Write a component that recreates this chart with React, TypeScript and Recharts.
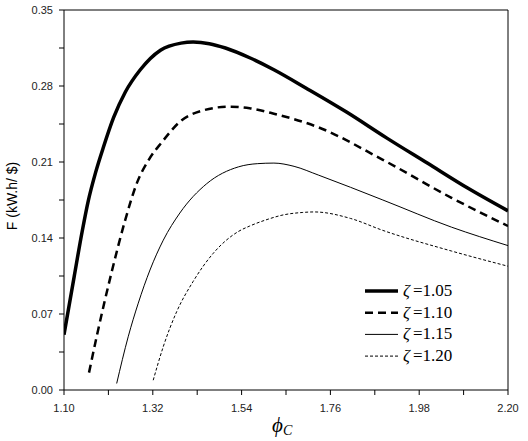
import { LineChart, Line, XAxis, YAxis, ReferenceLine } from "recharts"

// phi_C vs F (kW.h/$) for four zeta values
const phi105 = [1.10, 1.125, 1.145, 1.16, 1.178, 1.198, 1.223, 1.252, 1.289, 1.339, 1.39, 1.42, 1.46, 1.50, 1.56, 1.62, 1.70, 1.80, 1.90, 2.00, 2.10, 2.20]
const f105 = [0.051, 0.104, 0.146, 0.174, 0.200, 0.224, 0.251, 0.2745, 0.295, 0.313, 0.3195, 0.3205, 0.319, 0.315, 0.306, 0.295, 0.278, 0.256, 0.232, 0.209, 0.186, 0.165]

const phi110 = [1.162, 1.182, 1.219, 1.252, 1.281, 1.31, 1.343, 1.39, 1.44, 1.51, 1.56, 1.62, 1.73, 1.89, 2.06, 2.20]
const f110 = [0.016, 0.051, 0.110, 0.157, 0.191, 0.212, 0.2285, 0.248, 0.257, 0.261, 0.2595, 0.2545, 0.242, 0.212, 0.177, 0.151]

const phi115 = [1.2305, 1.259, 1.284, 1.313, 1.346, 1.387, 1.4535, 1.532, 1.58, 1.62, 1.67, 1.73, 1.89, 2.06, 2.20]
const f115 = [0.006, 0.049, 0.080, 0.1105, 0.138, 0.163, 0.190, 0.2055, 0.2085, 0.209, 0.206, 0.198, 0.175, 0.150, 0.133]

const phi120 = [1.321, 1.346, 1.379, 1.42, 1.47, 1.532, 1.56, 1.603, 1.64, 1.69, 1.72, 1.81, 1.89, 2.06, 2.20]
const f120 = [0.009, 0.040, 0.072, 0.100, 0.126, 0.146, 0.151, 0.157, 0.161, 0.1635, 0.164, 0.158, 0.147, 0.128, 0.114]

const xTicks = [1.10, 1.21, 1.32, 1.43, 1.54, 1.65, 1.76, 1.87, 1.98, 2.09, 2.20]
const yTicks = [0, 0.035, 0.07, 0.105, 0.14, 0.175, 0.21, 0.245, 0.28, 0.315, 0.35]

const zetaLabels = ["1.05", "1.10", "1.15", "1.20"]

const toRows = (xs: number[], ys: number[]) => xs.map((x, i) => ({ x, y: ys[i] }))

const series = [
  { name: zetaLabels[0], data: toRows(phi105, f105), width: 3.5, dash: undefined },
  { name: zetaLabels[1], data: toRows(phi110, f110), width: 2.5, dash: "8 5" },
  { name: zetaLabels[2], data: toRows(phi115, f115), width: 1, dash: undefined },
  { name: zetaLabels[3], data: toRows(phi120, f120), width: 1, dash: "3 2" },
]

const tickFont = { fontSize: 11, fontFamily: "Liberation Sans", fill: "#222" }

export default function App() {
  return (
    <div style={{ position: "absolute", left: 0, top: 0, width: 528, height: 441, background: "#fff" }}>
      <LineChart width={528} height={441} margin={{ top: 10, right: 20, left: 0, bottom: 0 }}>
        <XAxis
          dataKey="x"
          type="number"
          domain={[1.1, 2.2]}
          ticks={xTicks}
          allowDataOverflow
          height={51}
          tickSize={5}
          tickMargin={9}
          stroke="#000"
          tick={tickFont}
          tickFormatter={(v: number, i: number) => (i % 2 === 0 ? v.toFixed(2) : "")}
        />
        <YAxis
          type="number"
          domain={[0, 0.35]}
          ticks={yTicks}
          allowDataOverflow
          width={64}
          tickSize={5}
          tickMargin={6}
          stroke="#000"
          tick={tickFont}
          tickFormatter={(v: number, i: number) => (i % 2 === 0 ? v.toFixed(2) : "")}
        />
        <ReferenceLine y={0.35} stroke="#000" strokeWidth={1} />
        <ReferenceLine x={2.2} stroke="#000" strokeWidth={1} />
        {series.map((s) => (
          <Line
            key={s.name}
            data={s.data}
            dataKey="y"
            type="monotone"
            stroke="#000"
            strokeWidth={s.width}
            strokeDasharray={s.dash}
            dot={false}
            activeDot={false}
            isAnimationActive={false}
          />
        ))}
      </LineChart>

      <svg width={528} height={441} style={{ position: "absolute", left: 0, top: 0, pointerEvents: "none" }}>
        {series.map((s, i) => {
          const cy = 291 + i * 21.7
          return (
            <g key={s.name}>
              <line x1={365} x2={398} y1={cy} y2={cy} stroke="#000" strokeWidth={s.width} strokeDasharray={s.dash} />
              <text x={403} y={cy + 5} fontFamily="Liberation Serif" fontSize={17} fill="#000">
                <tspan fontStyle="italic">ζ</tspan>
                <tspan dx={3}>={s.name}</tspan>
              </text>
            </g>
          )
        })}
        <text
          x={17}
          y={196}
          transform="rotate(-90 17 196)"
          textAnchor="middle"
          fontFamily="Liberation Sans"
          fontSize={14}
          fill="#000"
        >
          F (kW.h/ $)
        </text>
        <text x={272} y={432} fontFamily="Liberation Serif" fontSize={21} fontStyle="italic" fill="#000">
          ϕ<tspan fontSize={14} dy={3}>C</tspan>
        </text>
      </svg>
    </div>
  )
}
